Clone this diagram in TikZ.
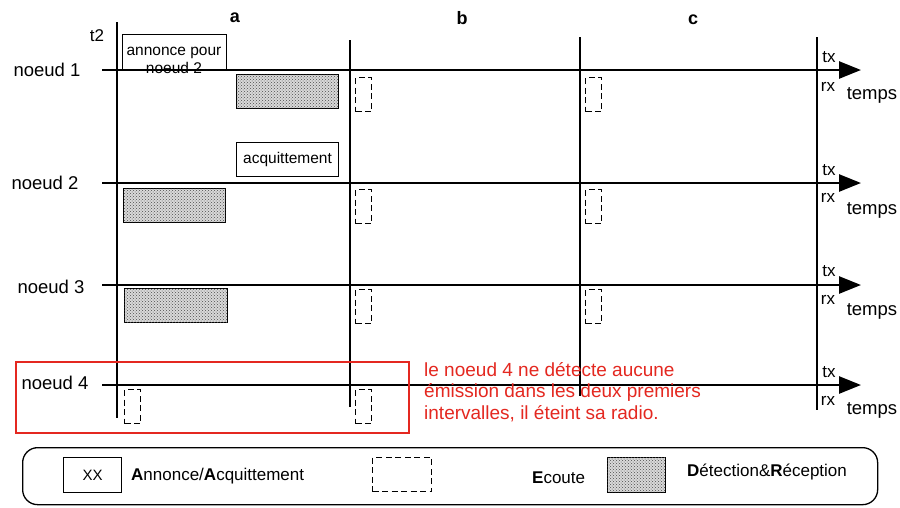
\documentclass[tikz,border=0pt]{standalone}
\usepackage{fontspec}
\setmainfont{Liberation Sans}
\usetikzlibrary{arrows.meta,patterns}
\definecolor{alertred}{RGB}{228,40,32}
\begin{document}
\begin{tikzpicture}[x=1pt,y=-1pt,
  axisline/.style={line width=2.6pt},
  timeaxis/.style={line width=2.6pt,-{Triangle[length=22pt,width=17pt]}},
  msgbox/.style={draw,line width=1.1pt,fill=white,inner sep=0pt,anchor=north west,align=center,font=\fontsize{15.5}{18}\selectfont},
  listenbox/.style={draw,line width=1.1pt,dash pattern=on 6pt off 3.5pt,inner sep=0pt,anchor=north west,minimum width=16pt,minimum height=34pt},
  hatchbox/.style={draw,line width=1.1pt,fill=black!15,postaction={pattern=crosshatch dots,pattern color=black!70},inner sep=0pt,anchor=north west,minimum width=102pt,minimum height=34pt},
  lab/.style={font=\fontsize{18.5}{20}\selectfont,inner sep=0pt},
  small/.style={font=\fontsize{17}{18}\selectfont,inner sep=0pt},
  col/.style={font=\fontsize{18}{20}\selectfont\bfseries,inner sep=0pt},
  leg/.style={font=\fontsize{17}{18}\selectfont,inner sep=0pt,anchor=west}
]
\useasboundingbox (0,0) rectangle (900,507);
\fill[white] (0,0) rectangle (900,507);

% column labels
\node[col] (ca) at (235,18) {a};
\node[col] (cb) at (462,18) {b};
\node[col] (cc) at (693,20) {c};
\node[small] (t2) at (97,36) {t2};

% message boxes (drawn before axes)
\node[msgbox,minimum width=104pt,minimum height=36pt] (ann) at (122,34) {};
\node[inner sep=0pt,anchor=base,align=center,font=\fontsize{15.5}{18}\selectfont] (anntxt) at (174,73) {annonce pour\\noeud 2};
\node[msgbox,minimum width=102pt,minimum height=34pt] (ack) at (236,142) {acquittement};

% vertical lines
\coordinate (vat) at (117,22);  \coordinate (vab) at (117,418);
\coordinate (vbt) at (350,40);  \coordinate (vbb) at (350,407);
\coordinate (vct) at (580,37);  \coordinate (vcb) at (580,396);
\coordinate (vdt) at (817,37);  \coordinate (vdb) at (817,410);
\draw[axisline] (vat) -- (vab);
\draw[axisline] (vbt) -- (vbb);
\draw[axisline] (vct) -- (vcb);
\draw[axisline] (vdt) -- (vdb);

% time axes
\foreach \i/\y in {1/70,2/183,3/285,4/385}{
  \coordinate (s\i) at (102,\y);
  \coordinate (e\i) at (861,\y);
  \draw[timeaxis] (s\i) -- (e\i);
}

% node labels
\node[lab] (n1) at (47,70) {noeud 1};
\node[lab] (n2) at (45,183) {noeud 2};
\node[lab] (n3) at (51,287) {noeud 3};
\node[lab] (n4) at (55,383) {noeud 4};

% tx / rx / temps
\node[small] (tx1) at (829,57) {tx};  \node[small] (rx1) at (828,87) {rx};  \node[lab] (tp1) at (872,95) {temps};
\node[small] (tx2) at (829,170) {tx}; \node[small] (rx2) at (828,198) {rx}; \node[lab] (tp2) at (872,210) {temps};
\node[small] (tx3) at (829,271) {tx}; \node[small] (rx3) at (828,300) {rx}; \node[lab] (tp3) at (872,311) {temps};
\node[small] (tx4) at (829,372) {tx}; \node[small] (rx4) at (828,401) {rx}; \node[lab] (tp4) at (872,410) {temps};

% detection boxes
\node[hatchbox] (h1) at (236,74) {};
\node[hatchbox] (h2) at (123,188) {};
\node[hatchbox,minimum width=103pt] (h3) at (124,288) {};

% listen boxes
\node[listenbox] (l1b) at (355,77) {};
\node[listenbox] (l1c) at (585,77) {};
\node[listenbox] (l2b) at (355,189) {};
\node[listenbox] (l2c) at (585,189) {};
\node[listenbox] (l3b) at (355,289) {};
\node[listenbox] (l3c) at (585,289) {};
\node[listenbox] (l4a) at (124,389) {};
\node[listenbox] (l4b) at (355,389) {};

% red highlight
\node[draw=alertred,line width=2.4pt,inner sep=0pt,anchor=north west,minimum width=393pt,minimum height=71pt] (hl) at (15,361) {};
\node[anchor=north west,inner sep=0pt,align=left,text=alertred,font=\fontsize{19}{21.5}\selectfont] (note) at (424,362)
  {le noeud 4 ne détecte aucune\\émission dans les deux premiers\\intervalles, il éteint sa radio.};

% legend
\node[draw,line width=1.3pt,rounded corners=15pt,inner sep=0pt,anchor=north west,minimum width=855pt,minimum height=57pt] (legend) at (22,447) {};
\node[msgbox,minimum width=58pt,minimum height=35pt,font=\fontsize{15}{17}\selectfont] (lxx) at (63,457) {XX};
\node[leg] (lt1) at (131,476) {\textbf{A}nnonce/\textbf{A}cquittement};
\node[listenbox,minimum width=59pt,minimum height=34pt] (lls) at (372,457) {};
\node[leg] (lt2) at (532,478) {\textbf{E}coute};
\node[hatchbox,minimum width=58pt,minimum height=35pt] (lhb) at (607,457) {};
\node[leg] (lt3) at (687,472) {\textbf{D}étection\&\textbf{R}éception};
\end{tikzpicture}
\end{document}
